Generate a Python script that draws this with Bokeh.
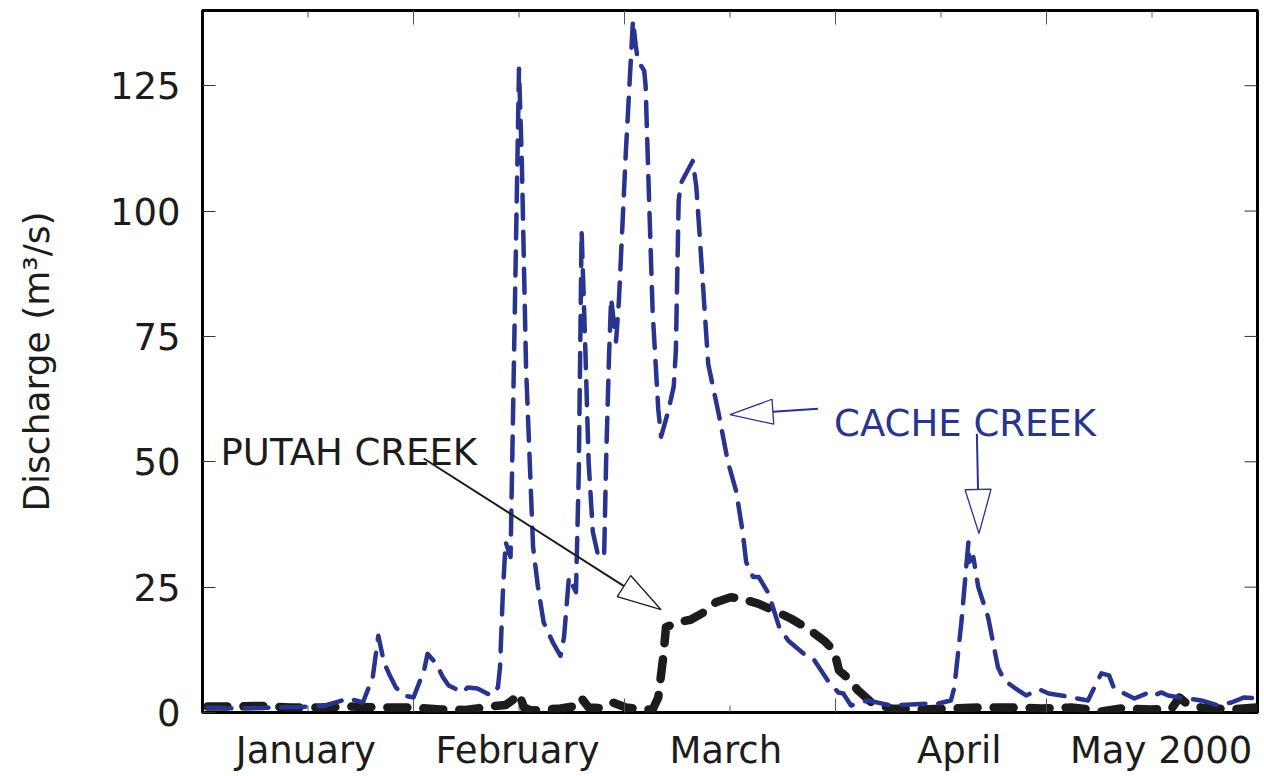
import math
from bokeh.plotting import figure
from bokeh.models import FixedTicker, Label, Range1d
from bokeh.embed import file_html
from bokeh.resources import INLINE

# ---------------- data ----------------
months = ["January", "February", "March", "April", "May 2000"]
month_label_pos = [14.7, 44.8, 74.4, 107.6, 136.3]
month_mid_days = [15, 45, 75, 105, 135]
month_edge_days = [30, 60, 90, 120]
y_ticks = [0, 25, 50, 75, 100, 125]

cache_day = [0.7, 4.7, 10.4, 13.9, 17.2, 20.8, 22.8, 24.2, 25.0, 25.8, 26.5, 27.5, 28.6,
             30.0, 31.5, 32.0, 33.2, 34.2, 35.0, 37.0, 37.7, 39.1, 41.0, 42.0, 42.3, 42.7,
             43.1, 43.8, 45.0, 45.4, 46.0, 47.0, 47.7, 48.5, 49.8, 50.9, 51.4, 52.1, 53.1,
             53.5, 53.9, 54.4, 54.9, 55.5, 56.2, 57.1, 57.4, 57.8, 58.1, 58.8, 59.2, 60.2,
             61.2, 61.6, 61.9, 62.8, 63.0, 63.5, 64.0, 64.8, 65.2, 66.2, 67.0, 67.3, 67.7,
             68.0, 69.7, 70.2, 70.6, 71.9, 73.4, 74.7, 75.9, 76.8, 77.3, 78.3, 79.1, 80.5,
             82.0, 83.3, 85.5, 87.0, 88.9, 90.4, 91.1, 92.2, 94.6, 97.9, 103.2, 104.6,
             106.4, 106.9, 107.9, 108.9, 109.0, 109.6, 110.3, 111.7, 113.1, 114.0, 116.0,
             117.1, 119.0, 120.3, 122.1, 125.9, 126.8, 127.8, 128.9, 129.6, 132.5, 134.6,
             135.3, 136.3, 137.3, 138.9, 142.0, 144.4, 146.3, 148.1, 150.0]
cache_q = [1.0, 0.8, 1.0, 1.1, 1.3, 2.8, 2.0, 7.0, 15.3, 10.0, 7.8, 5.0, 3.4,
           3.0, 8.4, 11.7, 9.8, 7.0, 5.4, 4.0, 5.0, 4.8, 3.4, 5.0, 9.0, 23.7,
           34.0, 31.0, 128.4, 110.0, 69.0, 33.0, 25.0, 18.0, 14.0, 11.3, 15.0, 27.0, 24.0,
           48.0, 96.0, 74.0, 50.0, 36.0, 31.6, 31.0, 51.0, 71.0, 82.6, 74.0, 82.0, 112.0,
           138.0, 133.0, 130.0, 128.0, 125.0, 102.0, 80.0, 60.5, 55.0, 60.0, 65.0, 72.0, 102.0,
           105.5, 110.0, 105.0, 97.0, 69.5, 59.5, 50.0, 44.0, 36.0, 30.0, 27.0, 27.0, 23.7,
           17.0, 14.3, 11.7, 10.4, 6.4, 4.0, 3.8, 1.4, 2.4, 1.4, 1.8, 1.8,
           2.4, 5.0, 18.0, 34.0, 30.0, 31.0, 25.0, 19.0, 9.0, 6.4, 4.4,
           3.4, 4.6, 3.8, 3.4, 2.4, 5.0, 7.8, 7.4, 4.8, 2.8, 4.0,
           3.4, 4.0, 3.4, 3.0, 2.4, 1.4, 2.0, 3.0, 2.8]

putah_day = [0.7, 4.7, 8.3, 12.5, 16.8, 21.1, 25.3, 29.6, 33.9, 37.4, 41.0, 43.1, 44.1,
             45.0, 45.7, 46.7, 48.8, 50.9, 52.7, 53.8, 54.9, 56.6, 58.3, 60.2, 62.8, 64.0,
             64.8, 65.5, 65.9, 67.6, 69.4, 71.3, 73.0, 75.1, 76.6, 79.0, 81.8, 83.7, 86.1,
             88.4, 89.8, 90.5, 91.8, 93.2, 95.1, 97.9, 102.2, 106.4, 110.7, 115.0, 119.3,
             123.5, 126.4, 127.8, 130.6, 134.9, 137.8, 138.9, 139.9, 142.0, 146.3, 150.0]
putah_q = [1.2, 1.2, 1.3, 1.0, 1.0, 1.2, 1.0, 1.0, 0.6, 0.5, 1.2, 1.5, 2.5,
           3.8, 1.0, 0.4, 0.6, 0.8, 1.2, 3.0, 1.0, 0.9, 2.0, 1.0, 0.6, 0.6,
           3.0, 11.0, 17.0, 18.0, 18.5, 20.0, 22.0, 23.0, 22.7, 21.7, 20.0, 18.7, 16.7,
           14.3, 12.3, 8.4, 6.8, 4.4, 2.0, 0.8, 0.6, 0.8, 1.0, 1.0, 0.8,
           1.0, 0.6, 0.2, 0.8, 0.6, 0.8, 3.0, 1.8, 1.0, 0.6, 1.0]

# ---------------- style ----------------
FONT = "DejaVu Sans"
FS = "37px"
BLUE = "#28358f"
BLACK = "#1c1c1c"
X0, X1 = 0, 150
Y0, Y1 = 0, 140
FW, FH = 1055, 702
SX = FW / (X1 - X0)   # px per day
SY = FH / (Y1 - Y0)   # px per m3/s

p = figure(frame_width=FW, frame_height=FH,
           x_range=Range1d(X0, X1), y_range=Range1d(Y0, Y1),
           output_backend="svg", toolbar_location=None,
           min_border_left=202, min_border_top=10, min_border_right=4, min_border_bottom=10)
p.grid.visible = False
p.outline_line_color = "black"
p.outline_line_width = 3
p.background_fill_color = "white"
p.border_fill_color = "white"

# bottom axis: labels at month positions, long inward ticks at month edges
xa = p.xaxis[0]
xa.ticker = FixedTicker(ticks=month_label_pos, minor_ticks=month_edge_days)
xa.major_label_overrides = {d: m for d, m in zip(month_label_pos, months)}
xa.axis_line_color = None
xa.major_tick_in = 0
xa.major_tick_out = 0
xa.minor_tick_in = 14
xa.minor_tick_out = 0
xa.minor_tick_line_color = "#555555"
xa.major_label_text_font = FONT
xa.major_label_text_font_size = FS
xa.major_label_text_color = BLACK
xa.major_label_standoff = 16

# left axis
ya = p.yaxis[0]
ya.ticker = FixedTicker(ticks=y_ticks, minor_ticks=[])
ya.axis_line_color = None
ya.major_tick_in = 13
ya.major_tick_out = 0
ya.major_tick_line_color = "#333333"
ya.major_label_text_font = FONT
ya.major_label_text_font_size = FS
ya.major_label_text_color = BLACK
ya.major_label_standoff = 22
ya.axis_label = "Discharge (m\u00b3/s)"
ya.axis_label_text_font = FONT
ya.axis_label_text_font_size = "36px"
ya.axis_label_text_font_style = "normal"
ya.axis_label_text_color = BLACK
ya.axis_label_standoff = 50

# top tick marks (inward), short at mid-month, long at month edges
top_x = month_mid_days + month_edge_days
top_len = [7] * len(month_mid_days) + [14] * len(month_edge_days)
p.segment(x0=top_x, y0=[Y1] * len(top_x), x1=top_x, y1=[Y1 - L / SY for L in top_len],
          line_color="#555555", line_width=1)
# bottom short mid-month ticks
p.segment(x0=month_mid_days, y0=[Y0] * 5, x1=month_mid_days, y1=[Y0 + 7 / SY] * 5,
          line_color="#555555", line_width=1)
# right tick marks
rt = y_ticks[1:]
p.segment(x0=[X1] * len(rt), y0=rt, x1=[X1 - 13 / SX] * len(rt), y1=rt,
          line_color="#333333", line_width=1)

# data lines
p.line(putah_day, putah_q, line_color=BLACK, line_width=8.5, line_dash="20 16",
       line_cap="round", line_join="round")
p.line(cache_day, cache_q, line_color=BLUE, line_width=4.5, line_dash="24 13",
       line_cap="round", line_join="round")


def draw_arrow(sx, sy, tx, ty, head_len, head_w, color, shaft_w):
    dx = (tx - sx) * SX
    dy = (ty - sy) * SY
    L = math.hypot(dx, dy)
    ux, uy = dx / L, dy / L
    nx, ny = -uy, ux
    bx, by = -ux * head_len, -uy * head_len
    xs = [tx, tx + (bx + nx * head_w / 2) / SX, tx + (bx - nx * head_w / 2) / SX]
    ys = [ty, ty + (by + ny * head_w / 2) / SY, ty + (by - ny * head_w / 2) / SY]
    p.line([sx, tx + bx / SX], [sy, ty + by / SY], line_color=color, line_width=shaft_w)
    p.patch(xs, ys, fill_color="white", line_color=color, line_width=1.3)


draw_arrow(31.45, 50.66, 65.2, 20.5, 44, 25, BLACK, 2)
draw_arrow(87.5, 60.6, 75.0, 59.4, 43, 25, BLUE, 2)
draw_arrow(110.1, 55.6, 110.4, 35.7, 44, 26, BLUE, 2)

p.add_layout(Label(x=2.56, y=51.9, text="PUTAH CREEK", text_font=FONT, text_font_size=FS,
                   text_color=BLACK, text_baseline="alphabetic"))
p.add_layout(Label(x=89.8, y=57.6, text="CACHE CREEK", text_font=FONT, text_font_size=FS,
                   text_color=BLUE, text_baseline="alphabetic"))

open("out.html", "w").write(file_html(p, INLINE))
